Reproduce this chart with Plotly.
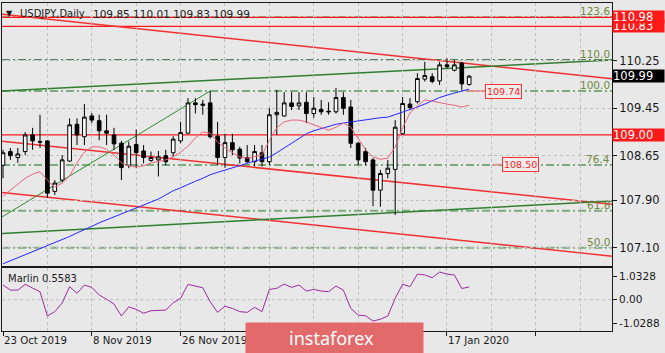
import pandas as pd
import plotly.graph_objects as go

# ---------------- data ----------------
# daily bars (no bars on 25 Dec and 1 Jan)
days = [d for d in pd.bdate_range("2019-10-23", "2020-01-22")
        if d.strftime("%m-%d") not in ("12-25", "01-01")]
dates = [d.strftime("%-d %b %Y") for d in days]

opens = [108.49, 108.72, 108.62, 108.72, 109.00, 108.89, 108.90, 108.05, 108.24, 108.56,
         109.18, 108.97, 109.32, 109.24, 109.07, 109.00, 108.86, 108.49, 108.84, 108.73,
         108.57, 108.58, 108.65, 108.70, 108.90, 109.03, 109.54, 109.52, 109.54, 108.98,
         108.62, 108.87, 108.76, 108.62, 108.55, 108.70, 108.55, 109.34, 109.32, 109.54,
         109.49, 109.55, 109.36, 109.43, 109.40, 109.39, 109.63, 109.47, 108.86, 108.72,
         108.58, 108.07, 108.35, 108.42, 109.02, 109.52, 109.56, 109.94, 109.98, 109.91,
         110.18, 110.09, 110.21, 109.85]
highs = [108.75, 108.78, 108.78, 109.05, 109.12, 109.34, 108.91, 108.24, 108.66, 109.28,
         109.28, 109.52, 109.37, 109.34, 109.34, 109.12, 108.90, 108.89, 109.09, 108.83,
         108.72, 108.73, 108.75, 108.98, 109.22, 109.62, 109.62, 109.59, 109.74, 109.22,
         109.02, 109.02, 108.80, 108.83, 108.83, 108.83, 109.45, 109.76, 109.72, 109.72,
         109.72, 109.72, 109.64, 109.59, 109.55, 109.79, 109.72, 109.59, 108.88, 108.78,
         108.61, 108.41, 108.58, 109.25, 109.64, 109.62, 110.04, 110.23, 110.04, 110.23,
         110.29, 110.26, 110.23, 110.01]
lows = [108.27, 108.58, 108.53, 108.66, 108.75, 108.78, 107.94, 107.99, 108.20, 108.55,
        108.83, 108.83, 109.20, 108.91, 108.83, 108.75, 108.24, 108.44, 108.44, 108.52,
        108.55, 108.30, 108.49, 108.63, 108.86, 109.02, 109.36, 109.34, 108.94, 108.49,
        108.45, 108.66, 108.52, 108.53, 108.47, 108.47, 108.49, 109.00, 109.31, 109.42,
        109.42, 109.20, 109.29, 109.34, 109.34, 109.36, 109.34, 108.78, 108.49, 108.49,
        107.80, 107.79, 108.27, 107.65, 109.00, 109.42, 109.53, 109.90, 109.87, 109.84,
        110.12, 110.07, 109.76, 109.83]
closes = [108.70, 108.65, 108.68, 109.00, 108.90, 108.88, 108.02, 108.19, 108.58, 109.17,
          109.00, 109.30, 109.25, 109.07, 109.03, 108.85, 108.45, 108.81, 108.70, 108.62,
          108.62, 108.63, 108.55, 108.93, 109.04, 109.54, 109.51, 109.50, 108.97, 108.62,
          108.87, 108.75, 108.61, 108.55, 108.72, 108.55, 109.34, 109.38, 109.54, 109.48,
          109.54, 109.36, 109.45, 109.39, 109.39, 109.63, 109.45, 108.86, 108.58, 108.55,
          108.07, 108.35, 108.44, 109.13, 109.53, 109.46, 109.95, 110.00, 109.90, 110.18,
          110.15, 110.18, 109.86, 109.99]

ma_slow = [106.83, 106.88, 106.93, 106.98, 107.03, 107.08, 107.13, 107.18, 107.23, 107.29,
           107.35, 107.40, 107.46, 107.52, 107.57, 107.62, 107.67, 107.72, 107.77, 107.82,
           107.87, 107.92, 107.99, 108.06, 108.11, 108.17, 108.22, 108.27, 108.33, 108.37,
           108.41, 108.45, 108.49, 108.53, 108.56, 108.59, 108.63, 108.70, 108.78, 108.86,
           108.95, 109.02, 109.07, 109.11, 109.14, 109.18, 109.20, 109.22, 109.23, 109.26,
           109.28, 109.29, 109.30, 109.34, 109.39, 109.42, 109.47, 109.52, 109.58, 109.63,
           109.67, 109.71, 109.74, 109.77]
ma_fast = [107.97, 108.07, 108.17, 108.27, 108.34, 108.38, 108.24, 108.12, 108.19, 108.31,
           108.53, 108.71, 108.80, 108.80, 108.76, 108.66, 108.53, 108.48, 108.46, 108.48,
           108.53, 108.56, 108.58, 108.63, 108.71, 108.81, 108.95, 109.05, 109.03, 108.88,
           108.78, 108.70, 108.63, 108.61, 108.63, 108.66, 108.91, 109.12, 109.22, 109.25,
           109.25, 109.22, 109.17, 109.12, 109.08, 109.13, 109.20, 109.13, 108.95, 108.75,
           108.63, 108.59, 108.61, 108.80, 109.12, 109.37, 109.49, 109.59, 109.57, 109.54,
           109.52, 109.50, 109.47, 109.50]
marlin = [0.64, 0.42, 0.42, 0.67, 0.51, 0.35, -0.71, -0.52, -0.14, 0.57,
          0.28, 0.64, 0.54, 0.21, 0.02, -0.19, -0.71, -0.31, -0.42, -0.59,
          -0.48, -0.48, -0.45, -0.13, 0.06, 0.67, 0.60, 0.52, -0.09, -0.55,
          -0.28, -0.38, -0.52, -0.55, -0.33, -0.52, 0.45, 0.50, 0.68, 0.54,
          0.64, 0.38, 0.45, 0.38, 0.35, 0.60, 0.42, -0.38, -0.67, -0.70,
          -0.93, -0.85, -0.71, 0.06, 0.68, 0.57, 1.12, 1.08, 0.96, 1.21,
          1.12, 1.08, 0.49, 0.5583]

price_ticks = [110.25, 109.45, 108.65, 107.90, 107.10]
marlin_ticks = [1.0328, 0.0, -1.0288]
marlin_ticktext = ["1.0328", "0.00", "-1.0288"]

fib_zero, fib_hundred = 104.46, 109.74
fib_levels = [123.6, 110.0, 100.0, 76.4, 61.8, 50.0]
red_levels = [110.98, 110.83, 109.00]
price_labels = [109.74, 108.50]

# trend lines: anchor bar index / price pairs
trend_names = ["red_top", "red_mid", "red_low", "green_top", "green_low", "green_fan"]
trend_x0 = [0, 0, 0, 0, 0, 0]
trend_p0 = [111.03, 108.89, 108.03, 109.74, 107.34, 107.63]
trend_x1 = [63, 63, 63, 63, 63, 28]
trend_p1 = [110.20, 108.08, 107.21, 110.14, 107.76, 109.74]

symbol_tf = "USDJPY,Daily"
last_bar = "109.85 110.01 109.83 109.99"
# labels visible in the picture (12 Dec and 31 Dec are hidden by the watermark)
date_label_idx = [0, 12, 24, 60]

# ---------------- figure ----------------
BG = "#E8E8E8"
FONT = "DejaVu Sans"
X_RANGE = [-0.135, 82.3]
Y_RANGE = [106.792, 111.222]
Y2_RANGE = [-1.364, 1.369]
idx = list(range(len(dates)))

fig = go.Figure()

fig.add_trace(go.Candlestick(
    x=idx, open=opens, high=highs, low=lows, close=closes,
    increasing=dict(fillcolor="white", line=dict(color="black", width=1)),
    decreasing=dict(fillcolor="black", line=dict(color="black", width=1)),
    whiskerwidth=0, hoverinfo="skip", xaxis="x", yaxis="y"))
fig.add_trace(go.Scatter(x=idx, y=ma_slow, mode="lines",
                         line=dict(color="#2626FF", width=1), xaxis="x", yaxis="y"))
fig.add_trace(go.Scatter(x=idx, y=ma_fast, mode="lines",
                         line=dict(color="#E8647C", width=1), xaxis="x", yaxis="y"))
fig.add_trace(go.Scatter(x=idx, y=marlin, mode="lines",
                         line=dict(color="#9C2A9C", width=1), xaxis="x2", yaxis="y2"))

shapes = []
# fibonacci levels
for lv in fib_levels:
    p = fib_zero + (fib_hundred - fib_zero) * lv / 100.0
    dark = lv > 100
    shapes.append(dict(type="line", xref="x domain", yref="y", x0=0, x1=1, y0=p, y1=p,
                       layer="below",
                       line=dict(color="#3F6E3F" if dark else "#7BAA7B",
                                 width=1 if dark else 2, dash="8px,3px,2px,3px")))
# red horizontal levels
for lv in red_levels:
    shapes.append(dict(type="line", xref="x domain", yref="y", x0=0, x1=1, y0=lv, y1=lv,
                       layer="below", line=dict(color="#FF1A1A", width=1.3)))
# trend lines
for name, xa, pa, xb, pb in zip(trend_names, trend_x0, trend_p0, trend_x1, trend_p1):
    slope = (pb - pa) / (xb - xa)
    xs = X_RANGE[0]
    xe = xb if name == "green_fan" else X_RANGE[1]
    if name.startswith("red"):
        ln = dict(color="#F23030", width=1.5)
    elif name == "green_fan":
        ln = dict(color="#2E8B2E", width=1)
    else:
        ln = dict(color="#2F7F2F", width=1.5)
    shapes.append(dict(type="line", xref="x", yref="y", layer="below",
                       x0=xs, y0=pa + slope * (xs - xa), x1=xe, y1=pa + slope * (xe - xa),
                       line=ln))
# marlin zero line
shapes.append(dict(type="line", xref="x2 domain", yref="y2", x0=0, x1=1, y0=0, y1=0,
                   layer="below", line=dict(color="#BDBDBD", width=1, dash="3px,3px")))
# label leader lines
shapes.append(dict(type="line", xref="x", yref="y", x0=62.7, x1=65.2,
                   y0=price_labels[0], y1=price_labels[0], line=dict(color="#F08888", width=1.5)))
shapes.append(dict(type="line", xref="x", yref="y", x0=66.1, x1=67.3,
                   y0=price_labels[1], y1=price_labels[1], line=dict(color="#F08888", width=1.5)))

ann = []
ann.append(dict(xref="paper", yref="paper", x=0, y=1, xanchor="left", yanchor="top",
                xshift=2, yshift=-4, showarrow=False, text="▼",
                font=dict(family=FONT, size=8, color="#1A1A1A")))
ann.append(dict(xref="paper", yref="paper", x=0, y=1, xanchor="left", yanchor="top",
                xshift=16, yshift=-3, showarrow=False, text=symbol_tf,
                font=dict(family=FONT, size=10, color="#1A1A1A")))
ann.append(dict(xref="paper", yref="paper", x=0, y=1, xanchor="left", yanchor="top",
                xshift=89, yshift=-3, showarrow=False, text=last_bar,
                font=dict(family=FONT, size=10.5, color="#1A1A1A")))
ann.append(dict(xref="paper", yref="paper", x=0, y=0.191, xanchor="left", yanchor="top",
                xshift=4, yshift=-3, showarrow=False, text="Marlin 0.5583",
                font=dict(family=FONT, size=10, color="#1A1A1A")))
for lv in fib_levels:
    p = fib_zero + (fib_hundred - fib_zero) * lv / 100.0
    ann.append(dict(xref="x domain", yref="y", x=1, y=p, xanchor="right", yanchor="bottom",
                    xshift=0, yshift=-2, showarrow=False, text=f"{lv:.1f}",
                    font=dict(family=FONT, size=10.5, color="#6E8A3C")))
# right-axis boxes
box_items = [(110.83, "#FF1A1A"), (110.98, "#FF1A1A"), (closes[-1], "#000000"), (109.00, "#FF1A1A")]
for val, col in box_items:
    ann.append(dict(xref="paper", yref="y", x=1, y=val, xanchor="left", yanchor="middle",
                    xshift=0, showarrow=False, text=f"{val:.2f}", bgcolor=col,
                    width=51, height=12, align="left", borderpad=0,
                    font=dict(family=FONT, size=11.5, color="white")))
# in-chart price labels
ann.append(dict(xref="x", yref="y", x=67.7, y=price_labels[0], showarrow=False,
                text=f"{price_labels[0]:.2f}", bgcolor="#EDEDED", bordercolor="#FF3030",
                borderwidth=1, borderpad=1, font=dict(family=FONT, size=9.5, color="#FF2020")))
ann.append(dict(xref="x", yref="y", x=69.9, y=price_labels[1], showarrow=False,
                text=f"{price_labels[1]:.2f}", bgcolor="#EDEDED", bordercolor="#FF3030",
                borderwidth=1, borderpad=1, font=dict(family=FONT, size=9.5, color="#FF2020")))
# date labels
for i in date_label_idx:
    ann.append(dict(xref="x2", yref="paper", x=i, y=0, xanchor="left", yanchor="top",
                    xshift=-1, yshift=-2, showarrow=False, text=dates[i],
                    font=dict(family=FONT, size=10.2, color="#1A1A1A")))
# watermark logo
ann.append(dict(xref="paper", yref="paper", x=(245 - 2) / 610, y=9 / 328, xanchor="left",
                yanchor="top", showarrow=False, text=" ", bgcolor="#E26A6A",
                width=177, height=31, borderpad=0))
ann.append(dict(xref="paper", yref="paper", x=(331 - 2) / 610, y=-7 / 328, xanchor="center",
                yanchor="middle", showarrow=False, text="instaforex",
                font=dict(family="Noto Sans", size=18, color="white")))

grid = dict(showgrid=True, gridcolor="#BEBEBE", griddash="3px,3px", gridwidth=1)
axline = dict(showline=True, mirror=True, linecolor="#1A1A1A", linewidth=1, zeroline=False)

fig.update_layout(
    width=665, height=353, margin=dict(l=2, r=53, t=3, b=22),
    paper_bgcolor=BG, plot_bgcolor=BG, showlegend=False,
    font=dict(family=FONT, size=11, color="#1A1A1A"),
    shapes=shapes, annotations=ann,
    xaxis=dict(domain=[0, 1], range=X_RANGE, anchor="y", tick0=0, dtick=6,
               showticklabels=False, ticks="", rangeslider=dict(visible=False),
               **grid, **axline),
    yaxis=dict(domain=[0.198, 1], range=Y_RANGE, anchor="x", side="right",
               tickvals=price_ticks, ticktext=[f"{v:.2f}" for v in price_ticks],
               tickfont=dict(family=FONT, size=11.5, color="#1A1A1A"),
               ticks="outside", ticklen=4, tickcolor="#1A1A1A", **grid, **axline),
    xaxis2=dict(domain=[0, 1], range=X_RANGE, anchor="y2", tick0=0, dtick=12,
                showticklabels=False, ticks="outside", ticklen=4, tickcolor="#1A1A1A",
                minor=dict(tick0=0, dtick=6, showgrid=True, gridcolor="#BEBEBE",
                           griddash="3px,3px", ticks=""),
                **grid, **axline),
    yaxis2=dict(domain=[0, 0.191], range=Y2_RANGE, anchor="x2", side="right",
                tickvals=marlin_ticks, ticktext=marlin_ticktext, showgrid=False,
                tickfont=dict(family=FONT, size=10.5, color="#1A1A1A"),
                ticks="outside", ticklen=4, tickcolor="#1A1A1A", **axline),
)

fig.write_html("out.html")
